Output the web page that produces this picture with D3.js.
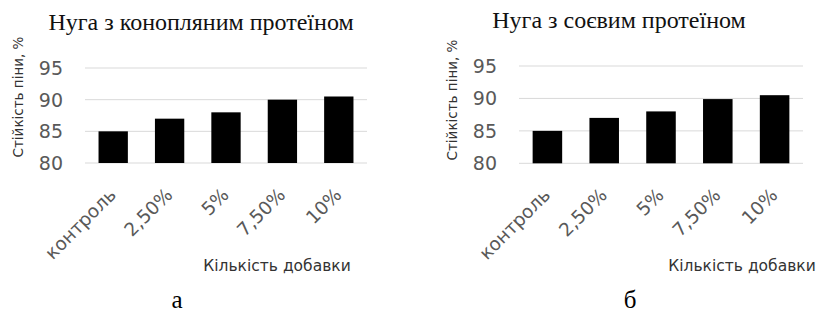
<!DOCTYPE html>
<html>
<head>
<meta charset="utf-8">
<script src="https://cdn.jsdelivr.net/npm/d3@7"></script>
<style>
  body { margin: 0; background: #fff; }
  svg { display: block; }
</style>
</head>
<body>
<div id="chart"></div>
<script>
// values
const categories = ["контроль", "2,50%", "5%", "7,50%", "10%"];
const hempValues = [85, 87, 88, 90, 90.5];
const soyValues = [85, 87, 88, 89.9, 90.5];
const yTicks = [80, 85, 90, 95];
const titles = ["Нуга з конопляним протеїном", "Нуга з соєвим протеїном"];
const panelLetters = ["а", "б"];
const yTitle = "Стійкість піни, %";
const xTitle = "Кількість добавки";

const width = 817, height = 316;
const sans = "'DejaVu Sans', sans-serif";
const serif = "'Liberation Serif', 'Times New Roman', serif";

const svg = d3.select("#chart")
    .append("svg")
    .attr("width", width)
    .attr("height", height);

// layout of the two panels
const panels = [
    { values: hempValues, title: titles[0], letter: panelLetters[0],
      x0: 85, x1: 367, yTop: 68, yBottom: 163,
      titleX: 201, titleY: 30, yTitleX: 23, yTitleY: 97, xTitleX: 277, letterX: 177 },
    { values: soyValues, title: titles[1], letter: panelLetters[1],
      x0: 519, x1: 803, yTop: 66, yBottom: 163.3,
      titleX: 619, titleY: 28, yTitleX: 457, yTitleY: 100, xTitleX: 742, letterX: 630 }
];

const drawPanel = (p) => {
    const g = svg.append("g");

    const x = d3.scaleBand()
        .domain(categories)
        .range([p.x0, p.x1])
        .paddingInner(0.48)
        .paddingOuter(0.24);

    const y = d3.scaleLinear()
        .domain([80, 95])
        .range([p.yBottom, p.yTop]);

    // gridlines
    g.selectAll(".grid")
        .data(yTicks)
        .join("line")
        .attr("x1", p.x0)
        .attr("x2", p.x1)
        .attr("y1", d => y(d))
        .attr("y2", d => y(d))
        .attr("stroke", "#d9d9d9")
        .attr("stroke-width", 1);

    // y tick labels
    g.selectAll(".ytick")
        .data(yTicks)
        .join("text")
        .attr("x", p.x0 - 22)
        .attr("y", d => y(d))
        .attr("dy", "0.36em")
        .attr("text-anchor", "end")
        .style("font-family", sans)
        .style("font-size", "19px")
        .attr("fill", "#595959")
        .text(d => d);

    // bars
    g.selectAll("rect")
        .data(p.values)
        .join("rect")
        .attr("x", (d, i) => x(categories[i]))
        .attr("width", x.bandwidth())
        .attr("y", d => y(d))
        .attr("height", d => y(80) - y(d))
        .attr("fill", "#000");

    // x tick labels, rotated
    g.selectAll(".xtick")
        .data(categories)
        .join("text")
        .attr("transform", d => `translate(${x(d) + x.bandwidth() / 2 + 4},${p.yBottom + 33}) rotate(-45)`)
        .attr("text-anchor", "end")
        .style("font-family", sans)
        .style("font-size", "18.5px")
        .attr("fill", "#595959")
        .text(d => d);

    // chart title
    g.append("text")
        .attr("x", p.titleX)
        .attr("y", p.titleY)
        .attr("text-anchor", "middle")
        .style("font-family", serif)
        .style("font-size", "24px")
        .attr("fill", "#111")
        .text(p.title);

    // y axis title
    g.append("text")
        .attr("transform", `translate(${p.yTitleX},${p.yTitleY}) rotate(-90)`)
        .attr("text-anchor", "middle")
        .style("font-family", sans)
        .style("font-size", "13.5px")
        .attr("fill", "#333")
        .text(yTitle);

    // x axis title
    g.append("text")
        .attr("x", p.xTitleX)
        .attr("y", 271)
        .attr("text-anchor", "middle")
        .style("font-family", sans)
        .style("font-size", "15.5px")
        .attr("fill", "#333")
        .text(xTitle);

    // panel letter under the chart
    g.append("text")
        .attr("x", p.letterX)
        .attr("y", 308)
        .attr("text-anchor", "middle")
        .style("font-family", serif)
        .style("font-size", "25px")
        .attr("fill", "#000")
        .text(p.letter);
};

panels.forEach(drawPanel);
</script>
</body>
</html>
